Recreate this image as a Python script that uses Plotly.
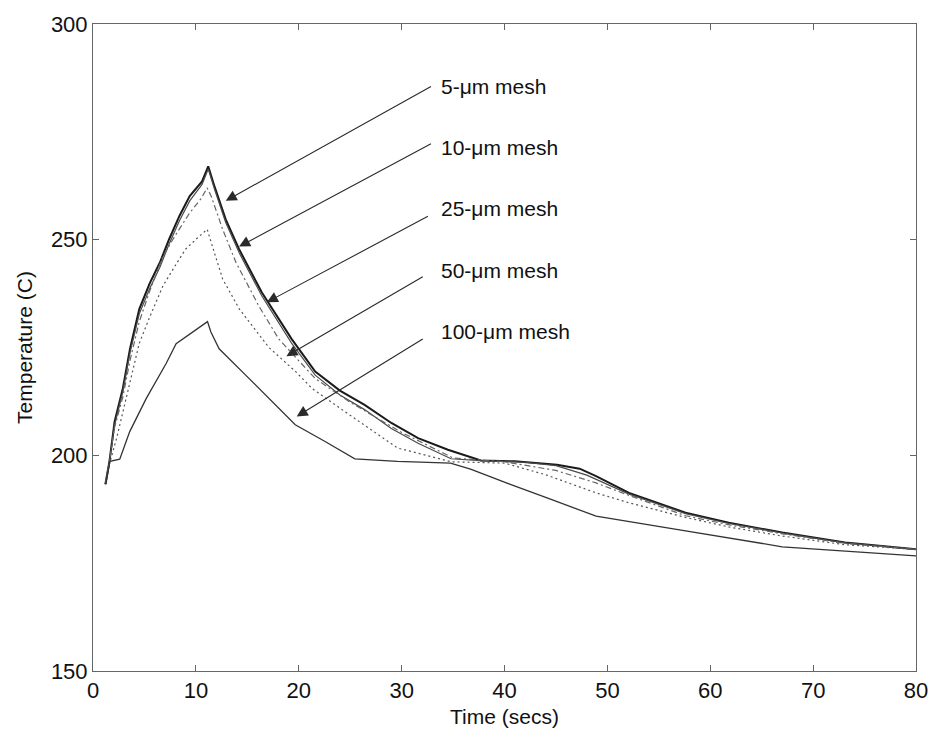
import plotly.graph_objects as go

# Surface temperature history for five mesh sizes
t_5um = [1.2, 1.6, 2.1, 2.9, 3.6, 4.5, 5.5, 6.5, 7.4, 8.4, 9.4, 10.6, 11.2, 11.8, 12.9, 14.2, 16.4, 19.3,
         21.6, 24.0, 26.4, 29.0, 31.6, 34.5, 37.7, 41.0, 45.1, 47.3, 48.9, 52.1, 57.6, 61.8, 67.0, 73.1, 80.0]
T_5um = [193.3, 198.6, 207.8, 215.5, 224.7, 233.9, 239.8, 244.7, 250.1, 255.5, 260.1, 263.5, 267.0, 262.4,
         254.7, 247.8, 237.8, 227.0, 219.4, 215.0, 211.7, 207.5, 204.0, 201.3, 198.8, 198.6, 197.8, 196.9,
         195.2, 191.3, 186.7, 184.4, 182.1, 179.8, 178.2]

t_10um = [1.2, 1.6, 2.1, 2.9, 3.6, 4.5, 5.5, 6.5, 7.4, 8.4, 9.4, 10.6, 11.2, 11.8, 12.9, 14.2, 16.4, 19.3,
          21.6, 24.0, 26.4, 29.0, 31.6, 34.8, 38.0, 42.0, 45.0, 48.0, 52.1, 57.6, 61.8, 67.0, 73.1, 80.0]
T_10um = [193.3, 198.6, 207.0, 214.8, 223.8, 232.8, 238.6, 243.6, 249.0, 254.4, 259.0, 262.8, 266.4, 261.8,
          254.0, 247.0, 237.0, 226.0, 218.6, 214.0, 210.6, 206.2, 202.8, 199.2, 198.7, 198.4, 197.6, 195.4,
          191.0, 186.5, 184.2, 182.0, 179.7, 178.2]

t_25um = [1.2, 1.6, 2.1, 2.9, 3.6, 4.5, 5.5, 6.8, 8.0, 9.4, 10.5, 11.1, 11.5, 12.6, 13.9, 16.1, 18.05, 21.6,
          25.0, 30.0, 35.0, 40.0, 45.0, 48.9, 52.0, 57.6, 62.0, 67.0, 73.0, 80.0]
T_25um = [193.3, 198.6, 206.5, 213.5, 222.0, 231.0, 238.0, 246.2, 251.0, 256.2, 259.5, 262.0, 260.0, 252.4,
          244.7, 234.7, 227.0, 217.8, 212.3, 205.3, 199.4, 198.5, 196.5, 193.6, 190.8, 186.0, 183.8, 181.8,
          179.6, 178.2]

t_50um = [1.2, 1.6, 2.3, 3.0, 3.9, 4.5, 5.5, 6.8, 8.0, 9.0, 10.2, 11.1, 11.6, 12.6, 14.2, 16.4, 17.1, 19.7,
          21.3, 24.5, 27.7, 29.6, 34.8, 40.0, 44.0, 48.9, 52.1, 57.6, 62.0, 67.0, 73.0, 80.0]
T_50um = [193.3, 198.0, 204.0, 211.0, 220.0, 226.0, 232.0, 239.3, 244.0, 247.8, 250.5, 252.4, 248.5, 240.9,
          234.0, 227.0, 225.0, 219.4, 215.5, 210.1, 204.8, 201.7, 198.5, 198.2, 195.5, 191.3, 189.0, 185.6,
          183.3, 181.3, 179.3, 178.2]

t_100um = [1.25, 1.64, 2.6, 3.57, 5.18, 7.11, 8.08, 10.2, 11.13, 11.46, 12.26, 14.84, 17.08, 19.66, 22.56,
           25.45, 29.6, 34.75, 36.7, 40.5, 44.4, 48.9, 57.6, 67.0, 80.0]
T_100um = [193.3, 198.6, 199.1, 205.5, 213.2, 221.3, 225.9, 229.3, 231.0, 228.6, 224.7, 218.6, 213.2, 207.1,
           203.2, 199.2, 198.6, 198.2, 196.8, 193.3, 189.9, 185.9, 182.5, 178.8, 176.7]

# Callout labels: text, arrow tip (t, T), arrow tail (t, T)
labels = ["5-\u03bcm mesh", "10-\u03bcm mesh", "25-\u03bcm mesh", "50-\u03bcm mesh", "100-\u03bcm mesh"]
tip_t = [12.9, 14.2, 16.9, 18.8, 19.8]
tip_T = [259.0, 248.4, 235.5, 223.0, 209.0]
tail_t = [33.0, 33.0, 32.7, 32.2, 32.2]
tail_T = [285.7, 272.4, 255.6, 241.6, 227.2]
label_t = [33.6, 33.6, 33.6, 33.6, 33.6]
label_T = [285.6, 271.4, 257.2, 242.9, 228.6]

FONT = "Liberation Sans, Arial, Helvetica, sans-serif"

fig = go.Figure()
series = [
    (t_5um, T_5um, dict(color="#1a1a1a", width=2.0, dash="solid")),
    (t_10um, T_10um, dict(color="#4a4a4a", width=1.2, dash="solid")),
    (t_25um, T_25um, dict(color="#666666", width=1.2, dash="6px,3px,2px,3px")),
    (t_50um, T_50um, dict(color="#555555", width=1.2, dash="2px,3px")),
    (t_100um, T_100um, dict(color="#333333", width=1.3, dash="solid")),
]
for (tx, ty, ln), name in zip(series, labels):
    fig.add_trace(go.Scatter(x=tx, y=ty, mode="lines", line=ln, name=name, showlegend=False))

for i, txt in enumerate(labels):
    fig.add_annotation(x=tip_t[i], y=tip_T[i], ax=tail_t[i], ay=tail_T[i], axref="x", ayref="y",
                       xref="x", yref="y", text="", showarrow=True, arrowhead=2, arrowsize=2.0,
                       arrowwidth=1.1, arrowcolor="#2a2a2a", standoff=0, startstandoff=0)
    fig.add_annotation(x=label_t[i], y=label_T[i], xref="x", yref="y", text=txt, showarrow=False,
                       xanchor="left", yanchor="middle", font=dict(family=FONT, size=21, color="#111"))

axis_common = dict(showline=True, linecolor="#666666", linewidth=1, mirror="ticks", ticks="inside",
                   ticklen=6, tickcolor="#666666", showgrid=False, zeroline=False,
                   tickfont=dict(family=FONT, size=22, color="#111"))

fig.update_xaxes(range=[0, 80], dtick=10, tick0=0,
                 title=dict(text="Time (secs)", font=dict(family=FONT, size=21, color="#111"), standoff=6),
                 **axis_common)
fig.update_yaxes(range=[150, 300], dtick=50, tick0=150,
                 title=dict(text="Temperature (C)", font=dict(family=FONT, size=21, color="#111"), standoff=12),
                 **axis_common)

fig.update_layout(width=940, height=745, margin=dict(l=93, r=18, t=20, b=74),
                  plot_bgcolor="white", paper_bgcolor="white")

fig.write_html("out.html")
